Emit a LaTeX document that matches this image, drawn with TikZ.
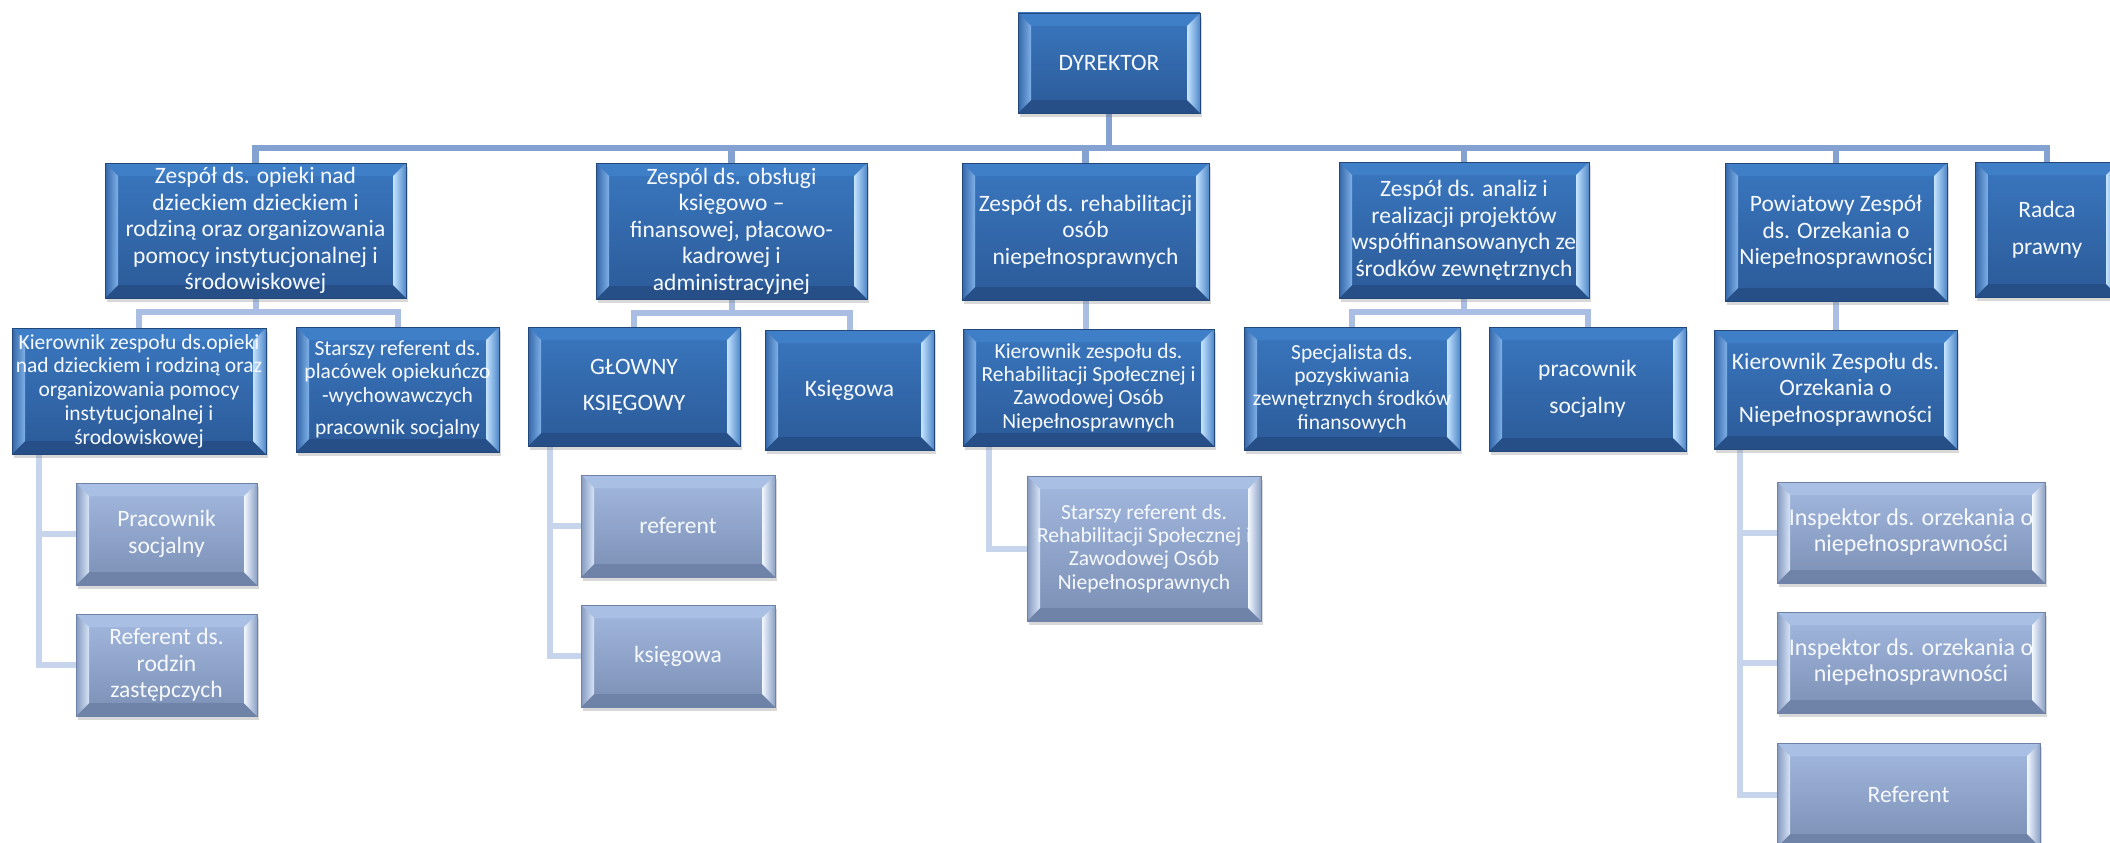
\documentclass[tikz,border=0pt]{standalone}
\usepackage{fontspec}
\setmainfont{Carlito}
\usetikzlibrary{shadows,calc}
\pgfdeclarelayer{bg}
\pgfsetlayers{bg,main}

\definecolor{dTop}{HTML}{3A77BF}
\definecolor{dBot}{HTML}{2B5A98}
\definecolor{dEdge}{HTML}{22477A}
\definecolor{dLo}{HTML}{3366A8}
\definecolor{dLi}{HTML}{7FB0E8}
\definecolor{dRi}{HTML}{C4E4FF}
\definecolor{dRo}{HTML}{4F87C9}
\definecolor{dTb}{HTML}{3F7FC8}
\definecolor{dBb}{HTML}{264F88}

\definecolor{lTop}{HTML}{A4B9DF}
\definecolor{lBot}{HTML}{7B8FB5}
\definecolor{lEdge}{HTML}{6E82A8}
\definecolor{lLo}{HTML}{8599BF}
\definecolor{lLi}{HTML}{D6E4F7}
\definecolor{lRi}{HTML}{F2F8FF}
\definecolor{lRo}{HTML}{8CA1C6}
\definecolor{lTb}{HTML}{AABFE4}
\definecolor{lBb}{HTML}{6F83A8}

\definecolor{lnA}{HTML}{84A2D1}
\definecolor{lnB}{HTML}{A9BEE2}
\definecolor{lnC}{HTML}{C7D5EC}
\definecolor{txt}{HTML}{F6F9FD}

\def\bevT{13pt}
\newcommand\bevpaint[6]{%
  \coordinate (bvA) at (path picture bounding box.north west);
  \coordinate (bvB) at (path picture bounding box.north east);
  \coordinate (bvC) at (path picture bounding box.south east);
  \coordinate (bvD) at (path picture bounding box.south west);
  \fill[#5] (bvA) -- (bvB) -- ([xshift=-\bevT,yshift=-\bevT]bvB) -- ([xshift=\bevT,yshift=-\bevT]bvA) -- cycle;
  \fill[#6] (bvD) -- (bvC) -- ([xshift=-\bevT,yshift=\bevT]bvC) -- ([xshift=\bevT,yshift=\bevT]bvD) -- cycle;
  \shade[left color=#1, right color=#2] (bvA) -- ([xshift=\bevT,yshift=-\bevT]bvA) -- ([xshift=\bevT,yshift=\bevT]bvD) -- (bvD) -- cycle;
  \shade[left color=#3, right color=#4] (bvB) -- ([xshift=-\bevT,yshift=-\bevT]bvB) -- ([xshift=-\bevT,yshift=\bevT]bvC) -- (bvC) -- cycle;
}

\newcommand\fMain{\fontsize{23.5}{26.5}\selectfont}
\newcommand\fSmall{\fontsize{21.5}{23.4}\selectfont}
\newcommand\fKA{\fontsize{21.5}{23.7}\selectfont}
\newcommand\fInsp{\fontsize{24}{26}\selectfont}

\tikzset{
  basebox/.style={rectangle, inner sep=0pt, align=center, text=txt, font=\fMain,
    line width=0.8pt, drop shadow={shadow xshift=1.5pt, shadow yshift=-4pt, opacity=.3}},
  dbox/.style={basebox, top color=dTop, bottom color=dBot, draw=dEdge,
    path picture={\bevpaint{dLo}{dLi}{dRi}{dRo}{dTb}{dBb}}},
  lbox/.style={basebox, top color=lTop, bottom color=lBot, draw=lEdge,
    path picture={\bevpaint{lLo}{lLi}{lRi}{lRo}{lTb}{lBb}}},
  lineA/.style={draw=lnA, line width=6.5pt},
  lineB/.style={draw=lnB, line width=6pt},
  lineC/.style={draw=lnC, line width=6pt},
}

\begin{document}
\begin{tikzpicture}[x=1pt, y=-1pt]
\useasboundingbox (0,0) rectangle (2110,843);
\begin{pgfonlayer}{bg}
\fill[white] (0,0) rectangle (2110,843);
\end{pgfonlayer}

% top
\node[dbox, minimum width=182pt, minimum height=100pt] (dyr) at (1109,63) {DYREKTOR};

% level 1
\node[dbox, minimum width=301pt, minimum height=135pt] (A) at (255.5,230.5)
  {Zespół ds. opieki nad\\dzieckiem dzieckiem i\\rodziną oraz organizowania\\pomocy instytucjonalnej i\\środowiskowej};
\node[dbox, minimum width=271pt, minimum height=136pt] (B) at (731.5,231)
  {Zespól ds. obsługi\\księgowo –\\finansowej, płacowo-\\kadrowej i\\administracyjnej};
\node[dbox, minimum width=247pt, minimum height=137pt] (C) at (1085.5,231.5)
  {Zespół ds. rehabilitacji\\osób\\niepełnosprawnych};
\node[dbox, minimum width=250pt, minimum height=136pt] (D) at (1464,230)
  {Zespół ds. analiz i\\realizacji projektów\\współfinansowanych ze\\środków zewnętrznych};
\node[dbox, minimum width=222pt, minimum height=138pt] (E) at (1836,232)
  {Powiatowy Zespół\\ds. Orzekania o\\Niepełnosprawności};
\node[dbox, minimum width=144pt, minimum height=135pt] (F) at (2047,229.5)
  {Radca\\[10pt]prawny};

% level 2
\node[dbox, font=\fKA, minimum width=254pt, minimum height=126pt] (A1) at (139,391)
  {Kierownik zespołu ds.opieki\\nad dzieckiem i rodziną oraz\\organizowania pomocy\\instytucjonalnej i\\środowiskowej};
\node[dbox, font=\fSmall, minimum width=203pt, minimum height=125pt] (A2) at (397.5,389.5)
  {Starszy referent ds.\\placówek opiekuńczo\\-wychowawczych\\[9pt]pracownik socjalny};
\node[dbox, minimum width=212pt, minimum height=119pt] (B1) at (634,386.5)
  {GŁOWNY\\[10pt]KSIĘGOWY};
\node[dbox, minimum width=169pt, minimum height=120pt] (B2) at (849.5,390)
  {Księgowa};
\node[dbox, font=\fSmall, minimum width=251pt, minimum height=117pt] (C1) at (1088.5,387.5)
  {Kierownik zespołu ds.\\Rehabilitacji Społecznej i\\Zawodowej Osób\\Niepełnosprawnych};
\node[dbox, font=\fSmall, minimum width=216pt, minimum height=123pt] (D1) at (1352,388.5)
  {Specjalista ds.\\pozyskiwania\\zewnętrznych środków\\finansowych};
\node[dbox, minimum width=197pt, minimum height=124pt] (D2) at (1587.5,389)
  {pracownik\\[10pt]socjalny};
\node[dbox, minimum width=243pt, minimum height=119pt] (E1) at (1835.5,389.5)
  {Kierownik Zespołu ds.\\Orzekania o\\Niepełnosprawności};

% level 3
\node[lbox, minimum width=181pt, minimum height=102pt] (A1a) at (166.5,534)
  {Pracownik\\socjalny};
\node[lbox, minimum width=181pt, minimum height=102pt] (A1b) at (166.5,665)
  {Referent ds.\\rodzin\\zastępczych};
\node[lbox, minimum width=194pt, minimum height=102pt] (B1a) at (678,526)
  {referent};
\node[lbox, minimum width=194pt, minimum height=102pt] (B1b) at (678,656)
  {księgowa};
\node[lbox, font=\fSmall, minimum width=234pt, minimum height=145pt] (C1a) at (1144,548.5)
  {Starszy referent ds.\\Rehabilitacji Społecznej i\\Zawodowej Osób\\Niepełnosprawnych};
\node[lbox, font=\fInsp, minimum width=268pt, minimum height=101pt] (E1a) at (1911,532.5)
  {Inspektor ds. orzekania o\\niepełnosprawności};
\node[lbox, font=\fInsp, minimum width=268pt, minimum height=101pt] (E1b) at (1911,662.5)
  {Inspektor ds. orzekania o\\niepełnosprawności};
\node[lbox, minimum width=263pt, minimum height=104pt] (E1c) at (1908.5,795)
  {Referent};

% connectors
\begin{pgfonlayer}{bg}
\coordinate (bus) at (1109,148);
\draw[lineA] (dyr.south) -- (bus);
\foreach \n in {A,B,C,D,E,F} {
  \draw[lineA] (bus) -| (\n.north);
}
\foreach \p/\c in {A/A1,A/A2,B/B1,B/B2,D/D1,D/D2} {
  \draw[lineB] (\p.south) -- ++(0,14) -| (\c.north);
}
\draw[lineB] (C.south) -- (C.south |- C1.north);
\draw[lineB] (E.south) -- (E.south |- E1.north);
\foreach \c in {A1a,A1b} \draw[lineC] ([xshift=27pt]A1.south west) |- (\c.west);
\foreach \c in {B1a,B1b} \draw[lineC] ([xshift=22pt]B1.south west) |- (\c.west);
\draw[lineC] ([xshift=26pt]C1.south west) |- (C1a.west);
\foreach \c in {E1a,E1b,E1c} \draw[lineC] ([xshift=26pt]E1.south west) |- (\c.west);
\end{pgfonlayer}
\end{tikzpicture}
\end{document}
